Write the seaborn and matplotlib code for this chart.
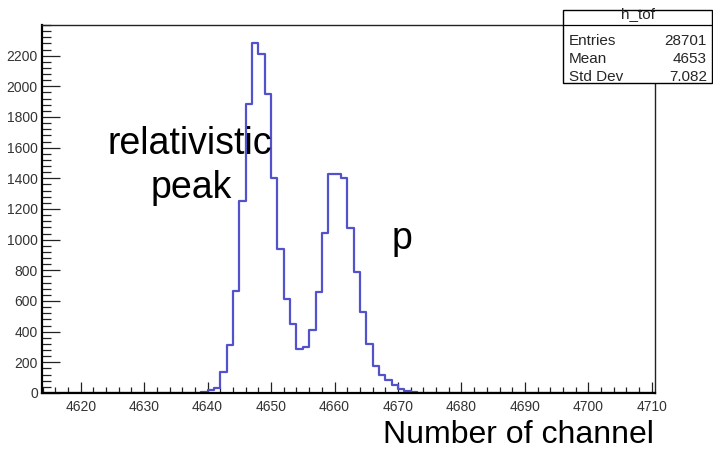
import numpy as np
import pandas as pd
import matplotlib
matplotlib.use("Agg")
import matplotlib.pyplot as plt
import seaborn as sns
from matplotlib.ticker import MultipleLocator
from matplotlib.patches import Rectangle
from matplotlib.lines import Line2D

# Time-of-flight spectrum h_tof: counts per channel (1-channel bins)
channels = [4638, 4639, 4640, 4641, 4642, 4643, 4644, 4645, 4646, 4647,
            4648, 4649, 4650, 4651, 4652, 4653, 4654, 4655, 4656, 4657,
            4658, 4659, 4660, 4661, 4662, 4663, 4664, 4665, 4666, 4667,
            4668, 4669, 4670, 4671, 4672, 4673, 4698]
counts = [3, 8, 20, 35, 140, 314, 668, 1250, 1888, 2283,
          2209, 1947, 1399, 936, 613, 452, 290, 303, 412, 657,
          1041, 1427, 1427, 1400, 1078, 788, 526, 321, 177, 118,
          85, 52, 24, 10, 4, 2, 3]

# histogram range and statistics box contents
x_first, x_last = 4614, 4710
stat_title = "h_tof"
stat_names = ["Entries", "Mean", "Std Dev"]
stat_values = ["28701", "4653", "7.082"]

sns.set_theme(style="ticks")
plt.rcParams["font.family"] = ["Liberation Sans", "DejaVu Sans"]

# every channel of the range, empty ones included (bin centre = channel + 0.5)
all_channels = np.arange(x_first, x_last + 1)
filled = dict(zip(channels, counts))
df = pd.DataFrame({
    "channel": all_channels + 0.5,
    "count": [float(filled.get(c, 0)) for c in all_channels],
})

W, H = 713, 450
fig = plt.figure(figsize=(W / 100, H / 100), dpi=100)
ax = fig.add_axes([42 / W, 1 - 393 / H, (655 - 42) / W, (393 - 25) / H])

sns.histplot(data=df, x="channel", weights="count",
             binwidth=1, binrange=(x_first, x_last + 1),
             element="step", fill=False,
             color="#5252cc", linewidth=1.6, ax=ax)

ax.set_xlim(4613.9, 4710.5)
ax.set_ylim(0, 2400)
ax.set_xlabel("")
ax.set_ylabel("")

ax.xaxis.set_major_locator(MultipleLocator(10))
ax.xaxis.set_minor_locator(MultipleLocator(2))
ax.set_yticks(np.arange(0, 2201, 200))
ax.yaxis.set_minor_locator(MultipleLocator(40))

ax.tick_params(axis="both", which="both", direction="in", colors="#222222",
               labelcolor="#333333", labelsize=10, width=0.9)
ax.tick_params(axis="x", which="major", length=8, pad=5)
ax.tick_params(axis="x", which="minor", length=4)
ax.tick_params(axis="y", which="major", length=13, pad=3)
ax.tick_params(axis="y", which="minor", length=6.5)
ax.tick_params(top=False, right=False, which="both")

for side in ["left", "bottom"]:
    ax.spines[side].set_linewidth(1.6)
    ax.spines[side].set_color("black")
for side in ["top", "right"]:
    ax.spines[side].set_visible(True)
    ax.spines[side].set_linewidth(1.0)
    ax.spines[side].set_color("#222222")

# peak annotations
ax.text(4637.2, 1560, "relativistic", fontsize=27, ha="center",
        va="baseline", color="black")
ax.text(4637.4, 1270, "peak", fontsize=27, ha="center",
        va="baseline", color="black")
ax.text(4670.6, 940, "p", fontsize=27, ha="center",
        va="baseline", color="black")

fig.text(654 / W, 1 - 443 / H, "Number of channel", fontsize=23,
         ha="right", va="baseline", color="black")

# statistics box in the upper right corner
bx0, bx1, by0, by1, bsep = 563, 712, 10, 83, 25
fig.add_artist(Rectangle((bx0 / W, 1 - by1 / H), (bx1 - bx0) / W,
                         (by1 - by0) / H, transform=fig.transFigure,
                         facecolor="white", edgecolor="black",
                         linewidth=1.0, zorder=10))
fig.add_artist(Line2D([bx0 / W, bx1 / W], [1 - bsep / H, 1 - bsep / H],
                      transform=fig.transFigure, color="black",
                      linewidth=0.9, zorder=11))
fig.text((bx0 + bx1) / 2 / W, 1 - 18 / H, stat_title, fontsize=11,
         ha="center", va="baseline", zorder=12)
for i, (name, val) in enumerate(zip(stat_names, stat_values)):
    yb = 1 - (45 + 18 * i) / H
    fig.text((bx0 + 6) / W, yb, name, fontsize=11, ha="left",
             va="baseline", zorder=12)
    fig.text((bx1 - 5) / W, yb, val, fontsize=11, ha="right",
             va="baseline", zorder=12)

fig.savefig("out.png", dpi=100, facecolor="white")
